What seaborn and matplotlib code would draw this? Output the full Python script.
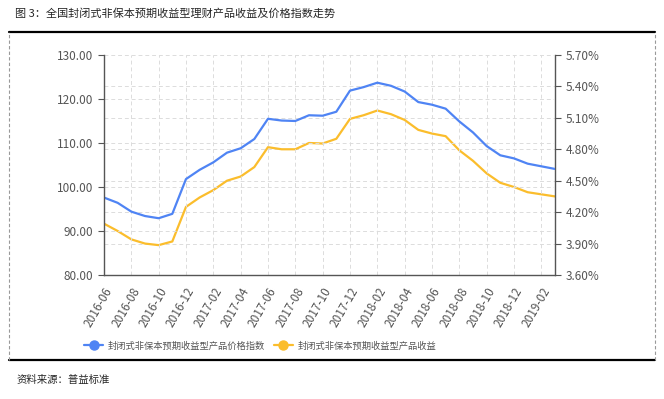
import matplotlib.pyplot as plt
import pandas as pd
import seaborn as sns
from matplotlib.lines import Line2D

months = [d.strftime("%Y-%m") for d in pd.date_range("2016-06", periods=34, freq="MS")]
price_index = [
    97.6, 96.4, 94.4, 93.4, 92.9, 93.9, 101.8, 103.9, 105.6, 107.8,
    108.8, 110.9, 115.5, 115.1, 115.0, 116.3, 116.2, 117.1, 121.9, 122.7,
    123.7, 123.0, 121.7, 119.3, 118.7, 117.8, 114.9, 112.4, 109.3, 107.2,
    106.5, 105.3, 104.7, 104.1,
]
yield_pct = [
    4.09, 4.02, 3.94, 3.90, 3.885, 3.92, 4.25, 4.34, 4.41, 4.50,
    4.54, 4.63, 4.82, 4.80, 4.80, 4.86, 4.855, 4.90, 5.09, 5.125,
    5.17, 5.135, 5.08, 4.985, 4.95, 4.925, 4.79, 4.69, 4.57, 4.48,
    4.44, 4.39, 4.37, 4.35,
]
left_ticks = [80, 90, 100, 110, 120, 130]
right_ticks = [3.6, 3.9, 4.2, 4.5, 4.8, 5.1, 5.4, 5.7]

label_index = "封闭式非保本预期收益型产品价格指数"
label_yield = "封闭式非保本预期收益型产品收益"
title = "图 3：全国封闭式非保本预期收益型理财产品收益及价格指数走势"
source = "资料来源：普益标准"

BLUE = "#4f84f4"
ORANGE = "#fbbd2c"
TICK_COLOR = "#555555"
GRID = dict(color="#dcdcdc", linestyle=(0, (4, 3)), linewidth=0.7)

sns.set_style("white")
plt.rcParams["font.family"] = ["Noto Sans CJK SC", "DejaVu Sans"]

df = pd.DataFrame({"month": months, "index": price_index, "yield": yield_pct})

fig = plt.figure(figsize=(6.64, 3.99), dpi=100)
ax = fig.add_axes([0.1566, 0.3108, 0.6792, 0.5514])
ax2 = ax.twinx()

sns.lineplot(data=df, x="month", y="index", ax=ax, color=BLUE, linewidth=1.6)
sns.lineplot(data=df, x="month", y="yield", ax=ax2, color=ORANGE, linewidth=1.6)

ax.set_ylim(80, 130)
ax2.set_ylim(3.6, 5.7)
ax.set_xlim(0, len(months) - 1)
ax.set_yticks(left_ticks)
ax.set_yticklabels([f"{v:.2f}" for v in left_ticks])
ax2.set_yticks(right_ticks)
ax2.set_yticklabels([f"{v:.2f}%" for v in right_ticks])
xt = list(range(0, len(months), 2))
ax.set_xticks(xt)
ax.set_xticklabels([months[i] for i in xt], rotation=60, ha="right",
                   rotation_mode="anchor")

for a in (ax, ax2):
    a.set_xlabel("")
    a.set_ylabel("")
    a.tick_params(colors=TICK_COLOR, labelsize=8.5, length=4, width=0.8,
                  direction="out")
    for s in a.spines.values():
        s.set_visible(False)

ax.spines["left"].set_visible(True)
ax.spines["bottom"].set_visible(True)
ax2.spines["right"].set_visible(True)
for s in (ax.spines["left"], ax.spines["bottom"], ax2.spines["right"]):
    s.set_color("#555555")
    s.set_linewidth(1.0)

for v in left_ticks[1:-1]:
    ax.axhline(v, zorder=0, **GRID)
for v in right_ticks[1:-1]:
    ax2.axhline(v, zorder=0, **GRID)
for i in xt[1:]:
    ax.axvline(i, zorder=0, **GRID)
ax.axhline(130, zorder=0, **GRID)
ax.set_zorder(ax2.get_zorder() + 1)
ax.patch.set_visible(False)

# frame around the chart
fig.add_artist(Line2D([9 / 664, 655 / 664], [1 - 32 / 399, 1 - 32 / 399],
                      color="black", linewidth=1.6))
fig.add_artist(Line2D([9 / 664, 655 / 664], [1 - 360 / 399, 1 - 360 / 399],
                      color="black", linewidth=1.6))
for xf in (9 / 664, 655 / 664):
    fig.add_artist(Line2D([xf, xf], [1 - 360 / 399, 1 - 32 / 399],
                          color="#999999", linewidth=0.8, linestyle=(0, (3, 2))))

handles = [
    Line2D([], [], color=BLUE, linewidth=1.6, marker="o", markersize=6.5),
    Line2D([], [], color=ORANGE, linewidth=1.6, marker="o", markersize=6.5),
]
fig.legend(handles, [label_index, label_yield], loc="center",
           bbox_to_anchor=(0.392, 1 - 346 / 399), ncol=2, frameon=False,
           fontsize=6.7, labelcolor="#555555", handlelength=2.0,
           columnspacing=1.0, handletextpad=0.5)

fig.text(15 / 664, 1 - 14 / 399, title, fontsize=8, va="center", ha="left")
fig.text(17 / 664, 1 - 380 / 399, source, fontsize=7.5, va="center", ha="left")

fig.savefig("out.png", dpi=100)
